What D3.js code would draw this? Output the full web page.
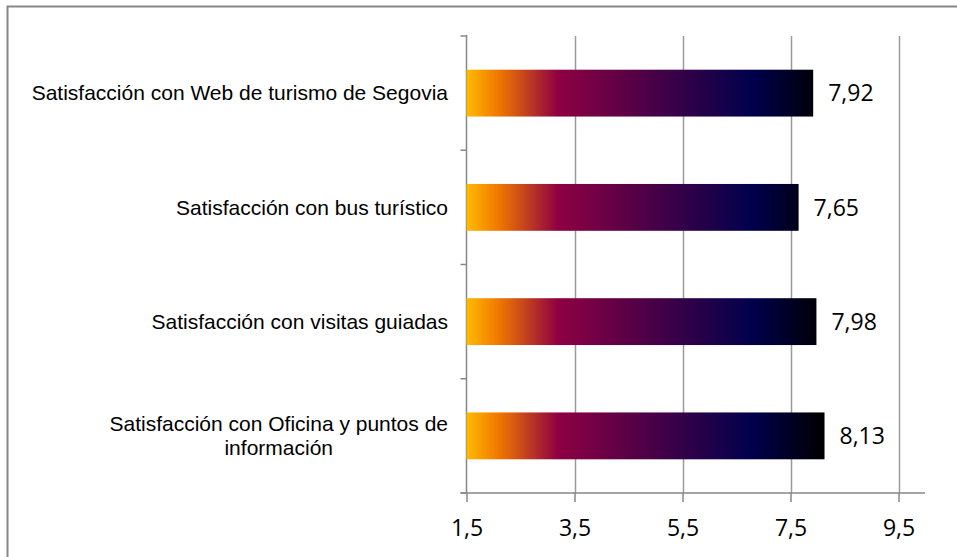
<!DOCTYPE html>
<html>
<head>
<meta charset="utf-8">
<script src="https://cdn.jsdelivr.net/npm/d3@7"></script>
<style>
  body { margin: 0; background: #fff; }
  svg { display: block; }
</style>
</head>
<body>
<div id="chart"></div>
<script>
// Data
const categories = [
  "Satisfacción con Web de turismo de Segovia",
  "Satisfacción con bus turístico",
  "Satisfacción con visitas guiadas",
  "Satisfacción con Oficina y puntos de información"
];
const values = [7.92, 7.65, 7.98, 8.13];
const xTicks = [1.5, 3.5, 5.5, 7.5, 9.5];

const width = 957, height = 557;
const plot = { left: 466.5, right: 898.5, top: 36, bottom: 493 };

const svg = d3.select("#chart")
  .append("svg")
    .attr("width", width)
    .attr("height", height);

// Outer frame (only top and left edges are visible)
svg.append("rect")
  .attr("x", 7.5).attr("y", 6.5)
  .attr("width", width + 20).attr("height", height + 20)
  .attr("fill", "none")
  .attr("stroke", "#878787")
  .attr("stroke-width", 2);

/* Scales */
const xScale = d3.scaleLinear()
  .domain([1.5, 9.5])
  .range([plot.left, plot.right]);

const yScale = d3.scaleBand()
  .domain(categories)
  .range([plot.top, plot.bottom])
  .paddingInner(0.59)
  .paddingOuter(0.295);

/* Gradient shared by all bars */
const defs = svg.append("defs");
const grad = defs.append("linearGradient")
  .attr("id", "barGrad")
  .attr("gradientUnits", "userSpaceOnUse")
  .attr("x1", xScale(1.5)).attr("x2", xScale(d3.max(values)))
  .attr("y1", 0).attr("y2", 0);
[
  [0, "#ffba00"],
  [0.09, "#f07800"],
  [0.255, "#8e0042"],
  [0.8, "#00004c"],
  [1, "#000000"]
].forEach(([o, c]) => grad.append("stop").attr("offset", o).attr("stop-color", c));

/* Gridlines */
svg.append("g")
  .selectAll("line")
  .data(xTicks.slice(1))
  .join("line")
    .attr("x1", d => Math.round(xScale(d)) + 0.5)
    .attr("x2", d => Math.round(xScale(d)) + 0.5)
    .attr("y1", plot.top)
    .attr("y2", plot.bottom)
    .attr("stroke", "#9a9a9a")
    .attr("stroke-width", 1.5);

/* Bottom axis */
const bottomAxis = svg.append("g")
  .attr("transform", `translate(0, ${plot.bottom})`)
  .call(d3.axisBottom(xScale)
    .tickValues(xTicks)
    .tickFormat(d => d3.format(".1f")(d).replace(".", ","))
    .tickSize(9)
    .tickSizeOuter(0)
    .tickPadding(18));
bottomAxis.select(".domain").remove();
bottomAxis.append("line")
  .attr("x1", plot.left - 6).attr("x2", 925)
  .attr("y1", 0).attr("y2", 0)
  .attr("stroke", "#878787").attr("stroke-width", 1.5);
bottomAxis.selectAll(".tick line").attr("stroke", "#878787").attr("stroke-width", 1.5);
bottomAxis.selectAll(".tick text")
  .attr("fill", "#000")
  .style("font-family", "'Open Sans', sans-serif")
  .style("font-size", "23px");

/* Left axis: line and category separators */
const leftAxis = svg.append("g");
leftAxis.append("line")
  .attr("x1", plot.left).attr("x2", plot.left)
  .attr("y1", plot.top - 1).attr("y2", plot.bottom)
  .attr("stroke", "#878787").attr("stroke-width", 1.5);
const step = yScale.step();
leftAxis.selectAll(".sep")
  .data(d3.range(categories.length + 1))
  .join("line")
    .attr("class", "sep")
    .attr("x1", plot.left - 6).attr("x2", plot.left)
    .attr("y1", i => plot.top + i * step)
    .attr("y2", i => plot.top + i * step)
    .attr("stroke", "#878787").attr("stroke-width", 1.5);

/* Bars */
svg.append("g")
  .selectAll("rect")
  .data(categories)
  .join("rect")
    .attr("x", xScale(1.5))
    .attr("y", d => yScale(d))
    .attr("width", (d, i) => xScale(values[i]) - xScale(1.5))
    .attr("height", yScale.bandwidth())
    .attr("fill", "url(#barGrad)");

/* Value labels */
svg.append("g")
  .selectAll("text")
  .data(categories)
  .join("text")
    .attr("x", (d, i) => xScale(values[i]) + 15)
    .attr("y", d => yScale(d) + yScale.bandwidth() / 2)
    .attr("dy", "0.36em")
    .style("font-family", "'Open Sans', sans-serif")
    .style("font-size", "23px")
    .text((d, i) => d3.format(".2f")(values[i]).replace(".", ","));

/* Category labels, wrapped like the original */
const labelRight = 448;
const maxLabelWidth = 425;
const labels = svg.append("g")
  .style("font-family", "Arial, 'Liberation Sans', sans-serif")
  .style("font-size", "21px")
  .attr("fill", "#000");

categories.forEach(cat => {
  const cy = yScale(cat) + yScale.bandwidth() / 2;
  const t = labels.append("text");
  // build lines
  const words = cat.split(" ");
  const lines = [];
  let line = [];
  words.forEach(w => {
    line.push(w);
    t.text(line.join(" "));
    if (t.node().getComputedTextLength() > maxLabelWidth && line.length > 1) {
      line.pop();
      lines.push(line.join(" "));
      line = [w];
    }
  });
  lines.push(line.join(" "));
  t.text(null);
  const widths = lines.map(l => { t.text(l); return t.node().getComputedTextLength(); });
  t.text(null);
  const blockW = d3.max(widths);
  const cx = labelRight - blockW / 2;
  const lh = 24;
  lines.forEach((l, i) => {
    t.append("tspan")
      .attr("x", cx)
      .attr("y", cy + (i - (lines.length - 1) / 2) * lh)
      .attr("dy", "0.35em")
      .attr("text-anchor", "middle")
      .text(l);
  });
});
</script>
</body>
</html>
